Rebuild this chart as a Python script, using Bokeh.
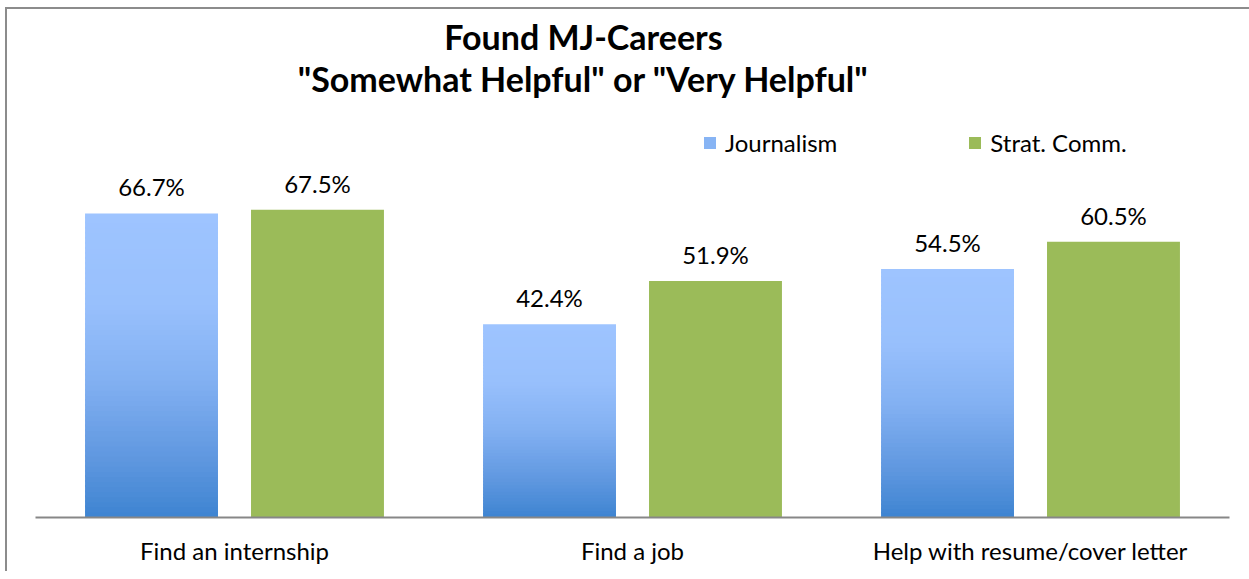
from bokeh.plotting import figure
from bokeh.models import (ColumnDataSource, FactorRange, Range1d, LabelSet, Label,
                          Legend, LegendItem)
from bokeh.core.properties import value
from bokeh.transform import dodge
from bokeh.embed import file_html
from bokeh.resources import INLINE

# ---- data ----
categories = ["Find an internship", "Find a job", "Help with resume/cover letter"]
journalism = [66.7, 42.4, 54.5]
strat_comm = [67.5, 51.9, 60.5]
series_names = ["Journalism", "Strat. Comm."]
title_lines = ["Found MJ-Careers", '"Somewhat Helpful" or "Very Helpful"']

# ---- style ----
FONT = "Lato"
GREEN = "#9BBB59"
BLUE_STOPS = [(0.0, (158, 196, 255)), (0.3, (152, 192, 252)), (0.55, (130, 176, 242)),
              (0.8, (96, 152, 224)), (1.0, (62, 132, 209))]


def grad(t):
    for (t0, c0), (t1, c1) in zip(BLUE_STOPS[:-1], BLUE_STOPS[1:]):
        if t <= t1:
            f = (t - t0) / (t1 - t0)
            r, g, b = (int(round(a + (bb - a) * f)) for a, bb in zip(c0, c1))
            return "#%02x%02x%02x" % (r, g, b)
    return "#%02x%02x%02x" % BLUE_STOPS[-1][1]


N = 60
seg = dict(cat=[], bottom=[], top=[], color=[])
for c, v in zip(categories, journalism):
    for k in range(N):
        seg["cat"].append(c)
        seg["bottom"].append(v * k / N)
        seg["top"].append(min(v, v * (k + 1.4) / N))
        seg["color"].append(grad(1 - (k + 0.5) / N))
seg_src = ColumnDataSource(seg)

src = ColumnDataSource(dict(
    cat=categories, journalism=journalism, strat=strat_comm,
    jlab=["%.1f%%" % v for v in journalism],
    slab=["%.1f%%" % v for v in strat_comm],
))

PX_PER_UNIT = 4.558
FRAME_LEFT = 35
FRAME_RIGHT = 1229
FRAME_TOP = 10
FRAME_BOTTOM = 517
FIG_W, FIG_H = 1249, 571

border_css = ("linear-gradient(#8c8c8c, #8c8c8c) 5px 7px / 2px calc(100% - 7px) no-repeat, "
              "linear-gradient(#8c8c8c, #8c8c8c) 5px 7px / calc(100% - 5px) 2px no-repeat")

p = figure(width=FIG_W, height=FIG_H, x_range=FactorRange(*categories, range_padding=0),
           y_range=Range1d(0, (FRAME_BOTTOM - FRAME_TOP) / PX_PER_UNIT),
           output_backend="svg", toolbar_location=None, y_axis_location=None,
           min_border_left=FRAME_LEFT, min_border_right=FIG_W - FRAME_RIGHT,
           min_border_top=FRAME_TOP, min_border_bottom=FIG_H - FRAME_BOTTOM,
           styles={"background": border_css})
p.border_fill_color = None
p.background_fill_color = None
p.title = None

# title lines as labels inside the (tall) frame, frame-relative screen units
TITLE_CX = 583
for txt, base in zip(title_lines, [36, 78]):
    p.add_layout(Label(x=TITLE_CX - FRAME_LEFT, y=FRAME_BOTTOM - base, x_units="screen",
                       y_units="screen", text=txt, text_align="center",
                       text_baseline="alphabetic", text_font=FONT, text_font_style="bold",
                       text_font_size="34px", text_color="#000000"))

W = 0.334
OFF = 0.2085
r_blue = p.vbar(x=dodge("cat", -OFF, range=p.x_range), bottom="bottom", top="top",
                width=W, fill_color="color", line_color=None, source=seg_src)
r_green = p.vbar(x=dodge("cat", OFF, range=p.x_range), top="strat", width=W,
                 fill_color=GREEN, line_color=None, source=src)

lab_kw = dict(text_font=value(FONT), text_font_size=value("24px"), text_color="#000000",
              text_align="center", text_baseline="alphabetic", y_offset=17, source=src)
p.add_layout(LabelSet(x=dodge("cat", -OFF, range=p.x_range), y="journalism", text="jlab", **lab_kw))
p.add_layout(LabelSet(x=dodge("cat", OFF, range=p.x_range), y="strat", text="slab", **lab_kw))

legend = Legend(items=[LegendItem(label=series_names[0], renderers=[r_blue], index=N // 2),
                       LegendItem(label=series_names[1], renderers=[r_green])],
                orientation="horizontal", location=(667, 360),
                padding=0, margin=0, spacing=130, label_standoff=8,
                glyph_width=15, glyph_height=15, label_height=22,
                label_text_font=FONT, label_text_font_size="24px", label_text_color="#000000",
                border_line_color=None, background_fill_alpha=0)
p.add_layout(legend, "center")

p.xaxis.axis_line_color = "#878787"
p.xaxis.axis_line_width = 2
p.xaxis.major_tick_line_color = None
p.xaxis.minor_tick_line_color = None
p.xaxis.major_label_text_font = FONT
p.xaxis.major_label_text_font_size = "24px"
p.xaxis.major_label_text_color = "#000000"
p.xaxis.major_label_standoff = 12
p.xgrid.grid_line_color = None
p.ygrid.grid_line_color = None
p.outline_line_color = None

open("out.html", "w").write(file_html(p, INLINE))
